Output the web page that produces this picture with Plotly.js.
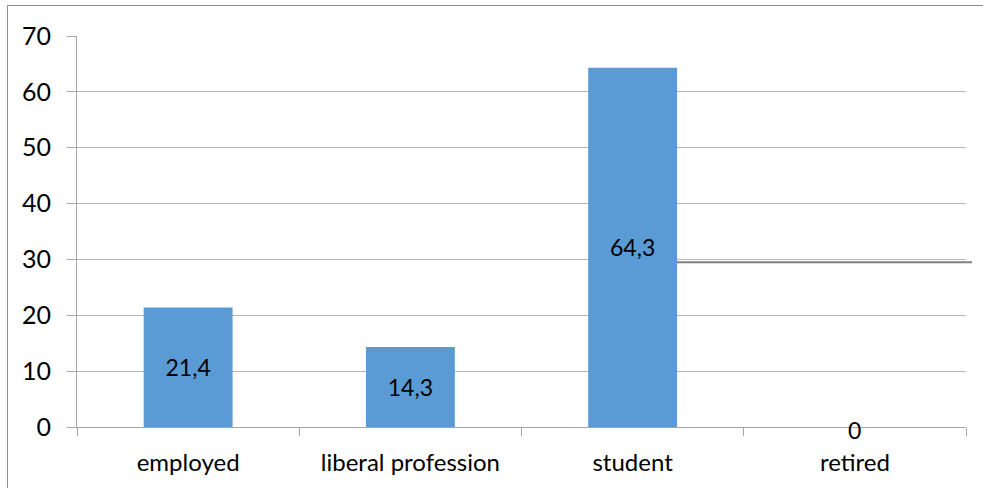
<!DOCTYPE html>
<html><head><meta charset="utf-8">
<script src="https://cdn.plot.ly/plotly-3.0.1.min.js"></script>
<style>
body{margin:0;padding:0;background:#fff;}
#frame{position:absolute;left:7px;top:5px;width:980px;height:486px;border:1.5px solid #8c8c8c;box-sizing:border-box;pointer-events:none;z-index:10;}
#chart{position:absolute;left:0;top:0;width:983px;height:488px;}
</style></head>
<body>
<div id="chart"></div>
<div id="frame"></div>
<script>
const categories = ['employed', 'liberal profession', 'student', 'retired'];
const values = [21.4, 14.3, 64.3, 0];
const yTicks = [0, 10, 20, 30, 40, 50, 60, 70];
const oddLineLevel = [29.5];

const fmt = v => String(v).replace('.', ',');
const font = 'Lato, "Liberation Sans", sans-serif';

const trace = {
  type: 'bar',
  x: categories,
  y: values,
  marker: {color: '#5B9BD5'},
  text: values.map(v => v === 0 ? '' : fmt(v)),
  textposition: 'inside',
  insidetextanchor: 'middle',
  textangle: 0,
  textfont: {family: font, size: 23, color: '#000'},
  hoverinfo: 'none',
  cliponaxis: false
};

const annotations = categories.map((c, i) => values[i] === 0 ? {
  x: c, y: values[i], xref: 'x', yref: 'y', text: fmt(values[i]),
  showarrow: false, yshift: -3, font: {family: font, size: 23, color: '#000'}
} : null).filter(a => a);

const layout = {
  width: 983, height: 488,
  margin: {l: 77, r: 17, t: 36, b: 61},
  paper_bgcolor: '#fff', plot_bgcolor: '#fff',
  bargap: 0.6,
  showlegend: false,
  font: {family: font, color: '#000'},
  xaxis: {
    type: 'category',
    tickson: 'boundaries',
    ticks: 'outside', ticklen: 8, tickcolor: '#a6a6a6', tickwidth: 1,
    showline: true, linecolor: '#a6a6a6', linewidth: 1,
    showgrid: false, zeroline: false,
    tickfont: {family: font, size: 24, color: '#000'},
    ticklabelstandoff: 14
  },
  yaxis: {
    range: [0, 70],
    tickvals: yTicks,
    ticktext: yTicks.map(String),
    ticks: 'outside', ticklen: 9, tickcolor: '#a6a6a6', tickwidth: 1,
    showline: true, linecolor: '#a6a6a6', linewidth: 1,
    showgrid: true, gridcolor: '#b5b5b5', gridwidth: 1,
    zeroline: false,
    tickfont: {family: font, size: 25, color: '#000'},
    ticklabelstandoff: 11
  },
  shapes: [{
    type: 'line', xref: 'paper', yref: 'y',
    x0: (677 - 77) / 889, x1: (972 - 77) / 889,
    y0: oddLineLevel[0], y1: oddLineLevel[0],
    line: {color: '#7f7f7f', width: 2}, layer: 'above'
  }],
  annotations: annotations
};

Plotly.newPlot('chart', [trace], layout, {displayModeBar: false, staticPlot: true});
</script>
</body></html>
